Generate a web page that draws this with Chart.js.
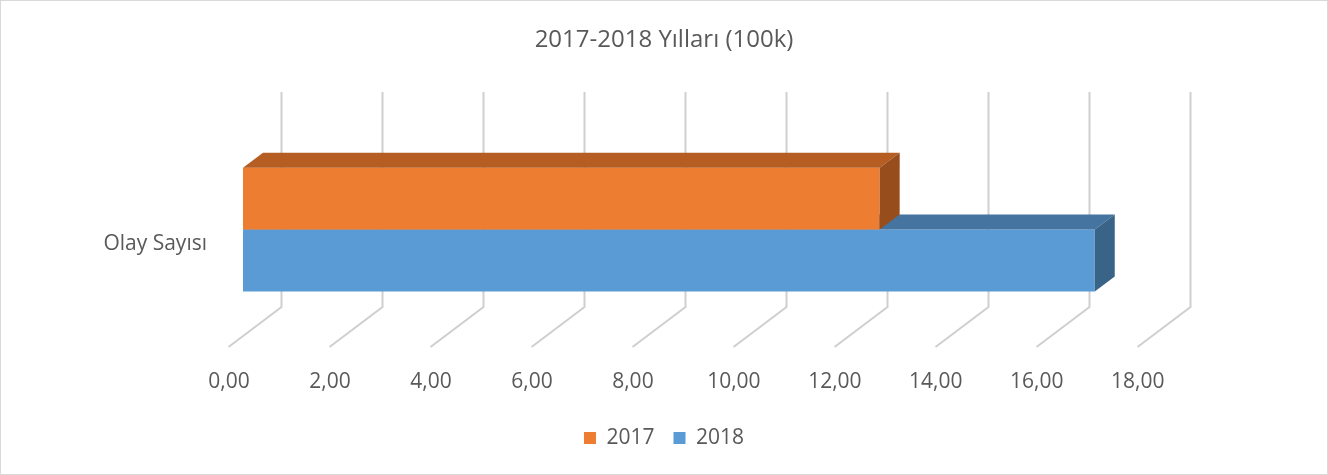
<!DOCTYPE html>
<html>
<head>
<meta charset="utf-8">
<script src="https://cdn.jsdelivr.net/npm/chart.js@4.4.1/dist/chart.umd.min.js"></script>
<style>
  html, body { margin: 0; padding: 0; background: #fff; }
  #wrap { width: 1328px; height: 475px; }
</style>
</head>
<body>
<div id="wrap"><canvas id="chart-bar" width="1328" height="475"></canvas></div>
<script>
var categories = ['Olay Sayısı'];
var seriesNames = ['2017', '2018'];
var values2017 = [12.61];
var values2018 = [16.87];
var tickValues = [0, 2, 4, 6, 8, 10, 12, 14, 16, 18];

var FONT = '"Open Sans", "Liberation Sans", sans-serif';
var TEXT = '#595959';

// fake 3D: depth of bars and of the back wall
var depth = { dx: 20, dy: -15 };
var wall = { dx: 38, bottomFromTop: 215, floorDx: -53, floorDy: 40 };

var faceColors = [
    { top: '#B55D22', side: '#984E1C' },
    { top: '#44749F', side: '#3A6487' }
];

var gridPlugin = {
    id: 'grid3d',
    beforeDatasetsDraw: function (chart) {
        var ctx = chart.ctx, x = chart.scales.x, area = chart.chartArea;
        var yTop = area.top, yBot = area.top + wall.bottomFromTop;
        ctx.save();
        ctx.lineWidth = 2;
        ctx.strokeStyle = '#CFCFCF';
        tickValues.forEach(function (v) {
            var px = Math.round(x.getPixelForValue(v) + wall.dx) + 0.5;
            ctx.beginPath();
            ctx.moveTo(px, yTop);
            ctx.lineTo(px, yBot);
            ctx.lineTo(px + wall.floorDx, yBot + wall.floorDy);
            ctx.stroke();
        });
        ctx.restore();
    }
};

var barFacesPlugin = {
    id: 'barFaces',
    afterDatasetDraw: function (chart, args) {
        var ctx = chart.ctx, meta = args.meta, col = faceColors[args.index];
        meta.data.forEach(function (bar) {
            var p = bar.getProps(['x', 'y', 'base', 'height'], true);
            var top = p.y - p.height / 2, bot = p.y + p.height / 2;
            ctx.save();
            ctx.fillStyle = col.top;
            ctx.beginPath();
            ctx.moveTo(p.base, top);
            ctx.lineTo(p.base + depth.dx, top + depth.dy);
            ctx.lineTo(p.x + depth.dx, top + depth.dy);
            ctx.lineTo(p.x, top);
            ctx.closePath();
            ctx.fill();
            ctx.fillStyle = col.side;
            ctx.beginPath();
            ctx.moveTo(p.x, top);
            ctx.lineTo(p.x + depth.dx, top + depth.dy);
            ctx.lineTo(p.x + depth.dx, bot + depth.dy);
            ctx.lineTo(p.x, bot);
            ctx.closePath();
            ctx.fill();
            ctx.restore();
        });
    }
};

var framePlugin = {
    id: 'frame',
    beforeDraw: function (chart) {
        var ctx = chart.ctx;
        ctx.save();
        ctx.fillStyle = '#fff';
        ctx.fillRect(0, 0, chart.width, chart.height);
        ctx.restore();
    },
    afterDraw: function (chart) {
        var ctx = chart.ctx;
        ctx.save();
        ctx.strokeStyle = '#D9D9D9';
        ctx.lineWidth = 1;
        ctx.strokeRect(0.5, 0.5, chart.width - 1, chart.height - 1);
        ctx.restore();
    }
};

var ctx = document.getElementById('chart-bar').getContext('2d');
var chart = new Chart(ctx, {
    type: 'bar',
    data: {
        labels: categories,
        datasets: [{
            label: seriesNames[0],
            data: values2017,
            backgroundColor: '#ED7D31',
            categoryPercentage: 0.45,
            barPercentage: 1
        }, {
            label: seriesNames[1],
            data: values2018,
            backgroundColor: '#5B9BD5',
            categoryPercentage: 0.45,
            barPercentage: 1
        }]
    },
    options: {
        indexAxis: 'y',
        responsive: false,
        animation: false,
        maintainAspectRatio: false,
        layout: { padding: { left: 0, right: 0, top: 0, bottom: 16.5 } },
        scales: {
            x: {
                min: 0,
                max: 21.49, // leaves the empty space right of the 18,00 wall
                afterBuildTicks: function (s) {
                    s.ticks = tickValues.map(function (v) { return { value: v }; });
                },
                afterFit: function (s) { s.height = 41.5; },
                grid: { display: false, drawTicks: false },
                border: { display: false },
                ticks: {
                    color: TEXT,
                    font: { family: FONT, size: 21 },
                    padding: 2,
                    labelOffset: -14,
                    maxRotation: 0,
                    callback: function (v) { return v.toFixed(2).replace('.', ','); }
                }
            },
            y: {
                afterFit: function (s) { s.width = 243; },
                grid: { display: false, drawTicks: false },
                border: { display: false },
                ticks: {
                    color: TEXT,
                    font: { family: FONT, size: 21 },
                    padding: 36,
                    labelOffset: 15
                }
            }
        },
        plugins: {
            title: {
                display: true,
                text: '2017-2018 Yılları (100k)',
                color: TEXT,
                font: { family: FONT, size: 24, weight: 'normal' },
                padding: { top: 25.6, bottom: 37.6 }
            },
            legend: {
                position: 'bottom',
                labels: {
                    color: TEXT,
                    font: { family: FONT, size: 21 },
                    boxWidth: 12,
                    boxHeight: 12,
                    padding: 19
                }
            },
            tooltip: { enabled: false }
        }
    },
    plugins: [framePlugin, gridPlugin, barFacesPlugin]
});
</script>
</body>
</html>
